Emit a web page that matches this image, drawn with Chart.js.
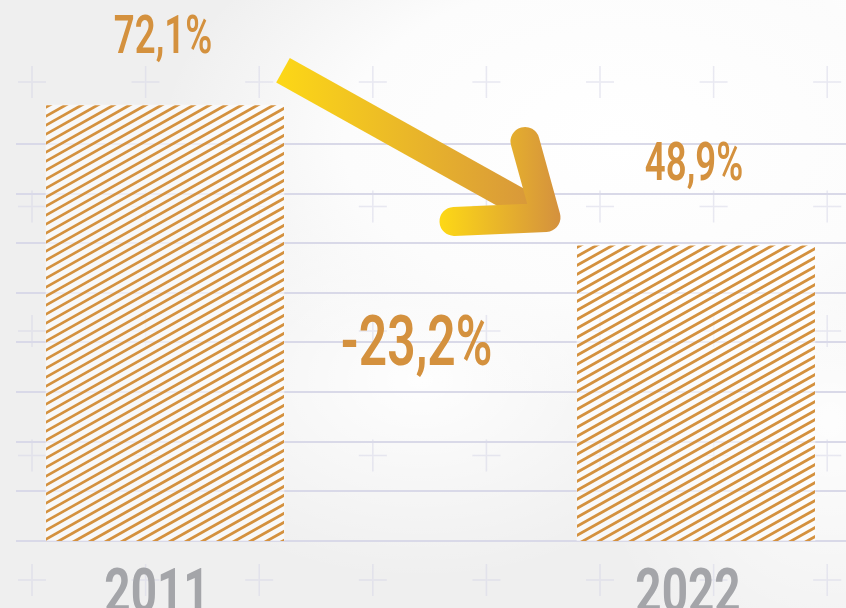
<!DOCTYPE html>
<html>
<head>
<meta charset="utf-8">
<script src="https://cdn.jsdelivr.net/npm/chart.js@4.4.0/dist/chart.umd.min.js"></script>
<style>
    html, body { margin: 0; padding: 0; }
    body {
        width: 846px;
        height: 608px;
        overflow: hidden;
        background:
            radial-gradient(ellipse 460px 270px at 620px 140px, #ffffff 0%, #fcfcfc 60%, rgba(255,255,255,0) 100%),
            radial-gradient(ellipse 300px 200px at 420px 380px, rgba(255,255,255,0.95) 0%, rgba(255,255,255,0) 100%),
            radial-gradient(ellipse 240px 280px at 830px 420px, rgba(255,255,255,0.9) 0%, rgba(255,255,255,0) 100%),
            radial-gradient(ellipse 200px 160px at 846px 0px, rgba(255,255,255,0.9) 0%, rgba(255,255,255,0) 100%),
            #efefef;
    }
    #wrap { position: relative; width: 846px; height: 608px; }
</style>
</head>
<body>
<div id="wrap"><canvas id="chart"></canvas></div>
<script>
const years = ["2011", "2022"];
const shares = [72.1, 48.9];
const gridSteps = [0, 1, 2, 3, 4, 5, 6, 7, 8];

const ORANGE = "#d4913e";
const YELLOW = "#fdd816";
const GREY = "#a4a5a9";

function pct(v) {
    return v.toFixed(1).replace(".", ",") + "%";
}

function condensedText(ctx, text, x, y, font, color, squeeze) {
    ctx.save();
    ctx.font = font;
    ctx.fillStyle = color;
    ctx.textAlign = "center";
    ctx.textBaseline = "alphabetic";
    ctx.translate(x, y);
    ctx.scale(squeeze, 1);
    ctx.fillText(text, 0, 0);
    ctx.restore();
}

// diagonal stripes inside a bar, clipped to its rectangle
function hatchBar(ctx, bar) {
    const left = bar.x - bar.width / 2;
    const right = bar.x + bar.width / 2;
    const top = bar.y, bottom = bar.base;
    ctx.save();
    ctx.beginPath();
    ctx.rect(left, top, right - left, bottom - top);
    ctx.clip();
    ctx.strokeStyle = ORANGE;
    ctx.lineWidth = 2.8;
    const span = bottom - top;
    for (let x0 = left - span * 16 / 9 - 16; x0 < right + 16; x0 += 16) {
        ctx.beginPath();
        ctx.moveTo(x0, bottom + 2);
        ctx.lineTo(x0 + (span + 4) * 16 / 9, top - 2);
        ctx.stroke();
    }
    ctx.restore();
}

const decor = {
    id: "decor",
    beforeDraw(chart) {
        const ctx = chart.ctx;
        ctx.save();
        ctx.strokeStyle = "rgba(215,215,232,0.55)";
        ctx.lineWidth = 1.5;
        for (let i = 0; i < 8; i++) {
            for (let j = 0; j < 5; j++) {
                const x = 32 + i * 113.6;
                const y = 82 + j * 124.5;
                ctx.beginPath();
                ctx.moveTo(x - 14, y);
                ctx.lineTo(x + 14, y);
                ctx.moveTo(x, y - 16);
                ctx.lineTo(x, y + 16);
                ctx.stroke();
            }
        }
        ctx.restore();
    },
    afterDatasetsDraw(chart) {
        const ctx = chart.ctx;
        const bars = chart.getDatasetMeta(0).data;
        const a = bars[0], b = bars[1];

        bars.forEach(bar => hatchBar(ctx, bar));

        // arrow shaft
        const sx = a.x + a.width / 2 - 1, sy = a.y - 35;
        const tx = b.x - b.width / 2 - 31, ty = b.y - 28;
        ctx.save();
        let g = ctx.createLinearGradient(sx - 8, 0, tx + 12, 0);
        g.addColorStop(0, YELLOW);
        g.addColorStop(1, ORANGE);
        ctx.strokeStyle = g;
        ctx.lineWidth = 28;
        ctx.lineCap = "butt";
        ctx.beginPath();
        ctx.moveTo(sx, sy);
        ctx.lineTo(tx - 8, ty - 5);
        ctx.stroke();

        // arrow head
        g = ctx.createLinearGradient(tx - 106, 0, tx + 14, 0);
        g.addColorStop(0, YELLOW);
        g.addColorStop(1, ORANGE);
        ctx.strokeStyle = g;
        ctx.lineWidth = 29;
        ctx.lineCap = "round";
        ctx.lineJoin = "round";
        ctx.beginPath();
        ctx.moveTo(tx - 21, ty - 76);
        ctx.lineTo(tx, ty);
        ctx.lineTo(tx - 92, ty + 4);
        ctx.stroke();
        ctx.restore();

        // value labels
        const lift = [52, 65];
        bars.forEach((bar, i) => {
            condensedText(ctx, pct(shares[i]), bar.x - 2, bar.y - lift[i],
                "600 53px Roboto", ORANGE, 0.69);
            condensedText(ctx, years[i], bar.x - 8, 612,
                "bold 62px Roboto", GREY, 0.74);
        });

        // change label
        const change = shares[1] - shares[0];
        condensedText(ctx, pct(change), (a.x + b.x) / 2 - 14, 365,
            "600 70px Roboto", ORANGE, 0.71);
    }
};

new Chart(document.getElementById("chart").getContext("2d"), {
    type: "bar",
    data: {
        datasets: [{
            data: years.map((y, i) => ({ x: i, y: shares[i] })),
            backgroundColor: "rgba(255,255,255,0.55)",
            borderWidth: 0,
            barThickness: 238
        }]
    },
    options: {
        responsive: true,
        maintainAspectRatio: false,
        animation: false,
        layout: {
            padding: { left: 16, right: 0, top: 0, bottom: 67 }
        },

        scales: {
            x: {
                type: "linear",
                offset: false,
                min: -0.2806,
                max: 1.2825,
                display: false
            },
            y: {
                min: 0,
                max: 89.5,
                display: false
            },
            y2: {
                type: "linear",
                position: "left",
                min: 0,
                max: 10.9,
                border: { display: false },
                grid: {
                    color: "#d9d9e8",
                    lineWidth: 2,
                    drawTicks: false
                },
                ticks: { display: false },
                afterBuildTicks: scale => {
                    scale.ticks = gridSteps.map(v => ({ value: v }));
                }
            }
        },

        plugins: {
            legend: { display: false },
            tooltip: { enabled: false }
        }
    },
    plugins: [decor]
});
</script>
</body>
</html>
